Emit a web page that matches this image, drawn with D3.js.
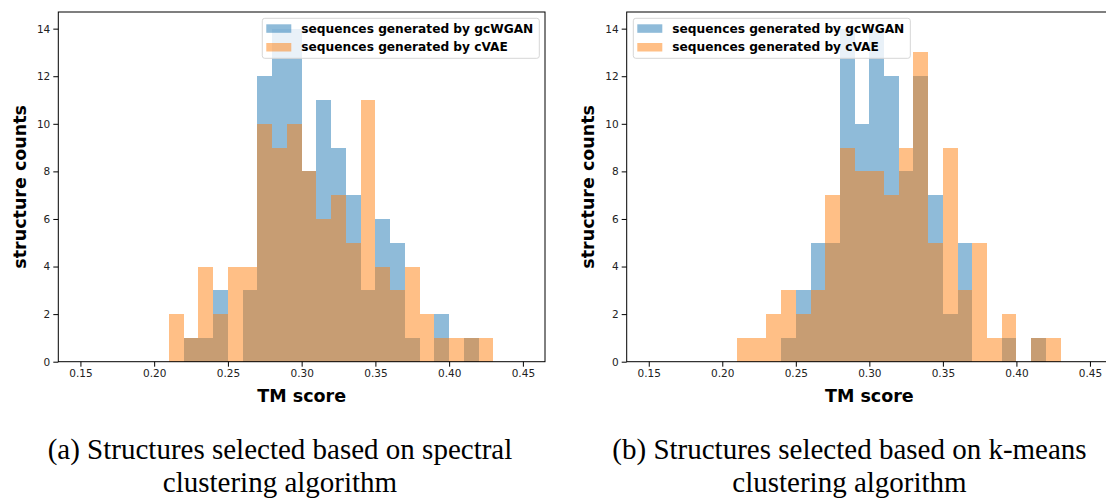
<!DOCTYPE html>
<html>
<head>
<meta charset="utf-8">
<script src="https://d3js.org/d3.v7.min.js"></script>
<style>
  body { margin: 0; background: #fff; }
  svg { display: block; }
</style>
</head>
<body>
<svg id="fig" width="1106" height="498"></svg>
<script>
// TM score bins (left edge of each 0.01 wide bin)
var tmBins = [0.15, 0.16, 0.17, 0.18, 0.19, 0.20, 0.21, 0.22, 0.23, 0.24,
              0.25, 0.26, 0.27, 0.28, 0.29, 0.30, 0.31, 0.32, 0.33, 0.34,
              0.35, 0.36, 0.37, 0.38, 0.39, 0.40, 0.41, 0.42, 0.43, 0.44];
var binWidth = 0.01;

// (a) spectral clustering
var spectralGcWGAN = [0, 0, 0, 0, 0, 0, 0, 1, 1, 3, 0, 3, 12, 14, 14, 8, 11, 9, 7, 3, 6, 5, 1, 0, 2, 0, 1, 0, 0, 0];
var spectralCVAE   = [0, 0, 0, 0, 0, 0, 2, 1, 4, 2, 4, 4, 10, 9, 10, 8, 6, 7, 5, 11, 4, 3, 4, 2, 1, 1, 1, 1, 0, 0];

// (b) k-means clustering
var kmeansGcWGAN = [0, 0, 0, 0, 0, 0, 0, 0, 0, 1, 3, 5, 5, 14, 10, 14, 12, 8, 12, 7, 2, 5, 0, 0, 1, 0, 1, 0, 0, 0];
var kmeansCVAE   = [0, 0, 0, 0, 0, 0, 1, 1, 2, 3, 2, 3, 7, 9, 8, 8, 7, 9, 13, 5, 9, 3, 5, 1, 2, 0, 1, 1, 0, 0];

var seriesNames = ["sequences generated by gcWGAN", "sequences generated by cVAE"];
var seriesColors = ["#1f77b4", "#ff7f0e"];

var xTicks = [0.15, 0.20, 0.25, 0.30, 0.35, 0.40, 0.45];
var yTicks = [0, 2, 4, 6, 8, 10, 12, 14];

var captions = [
    ["(a) Structures selected based on spectral", "clustering algorithm"],
    ["(b) Structures selected based on k-means", "clustering algorithm"]
];

var svg = d3.select("#fig");
var top_ = 12, bottom = 361.7;

function drawHist(left, right, seriesData, legendSide) {
    var x = d3.scaleLinear().domain([0.135, 0.465]).range([left, right]);
    var y = d3.scaleLinear().domain([0, 14.7]).range([bottom, top_]);

    var g = svg.append("g");

    // gcWGAN first, cVAE on top, both half transparent
    seriesData.forEach(function(counts, s) {
        g.append("g")
            .selectAll("rect")
            .data(tmBins.map(function(b, i) { return {x0: b, n: counts[i]}; }).filter(function(d) { return d.n > 0; }))
            .enter().append("rect")
            .attr("x", function(d) { return x(d.x0); })
            .attr("width", function(d) { return x(d.x0 + binWidth) - x(d.x0); })
            .attr("y", function(d) { return y(d.n); })
            .attr("height", function(d) { return y(0) - y(d.n); })
            .attr("fill", seriesColors[s])
            .attr("fill-opacity", 0.5)
            .attr("shape-rendering", "crispEdges");
    });

    // frame
    g.append("rect")
        .attr("x", left).attr("y", top_)
        .attr("width", right - left).attr("height", bottom - top_)
        .attr("fill", "none").attr("stroke", "#000").attr("stroke-width", 1);

    var xAxis = g.append("g")
        .attr("transform", "translate(0," + bottom + ")")
        .call(d3.axisBottom(x).tickValues(xTicks).tickFormat(d3.format(".2f")).tickSize(5).tickPadding(3));
    var yAxis = g.append("g")
        .attr("transform", "translate(" + left + ",0)")
        .call(d3.axisLeft(y).tickValues(yTicks).tickSize(5).tickPadding(3));
    [xAxis, yAxis].forEach(function(a) {
        a.select(".domain").remove();
        a.selectAll("text").attr("font-family", "DejaVu Sans").attr("font-size", 10.5).attr("fill", "#222");
        a.selectAll("line").attr("stroke", "#000");
    });

    g.append("text")
        .attr("x", (left + right) / 2).attr("y", 401.5)
        .attr("text-anchor", "middle")
        .attr("font-family", "DejaVu Sans").attr("font-weight", "bold").attr("font-size", 17.5)
        .text("TM score");

    g.append("text")
        .attr("transform", "translate(" + (left - 32.8) + "," + ((top_ + bottom) / 2) + ") rotate(-90)")
        .attr("text-anchor", "middle")
        .attr("font-family", "DejaVu Sans").attr("font-weight", "bold").attr("font-size", 17.5)
        .text("structure counts");

    // legend
    var lg = g.append("g");
    var box = lg.append("rect");
    var items = lg.selectAll("g.item").data(seriesNames).enter().append("g");
    items.append("rect")
        .attr("x", 4).attr("y", function(d, i) { return 6 + i * 18.7; })
        .attr("width", 25).attr("height", 8.5)
        .attr("fill", function(d, i) { return seriesColors[i]; })
        .attr("fill-opacity", 0.5);
    var texts = items.append("text")
        .attr("x", 39).attr("y", function(d, i) { return 14.5 + i * 18.7; })
        .attr("font-family", "DejaVu Sans").attr("font-weight", "bold").attr("font-size", 12.2)
        .text(function(d) { return d; });
    var maxLen = d3.max(texts.nodes(), function(n) { return n.getComputedTextLength(); });
    var bw = 39 + maxLen + 6, bh = 40;
    box.attr("width", bw).attr("height", bh).attr("rx", 2.5)
        .attr("fill", "#fff").attr("fill-opacity", 0.8)
        .attr("stroke", "#d6d6d6").attr("stroke-width", 1);
    var lx = legendSide === "right" ? right - 5.7 - bw : left + 6.6;
    lg.attr("transform", "translate(" + lx + "," + (top_ + 6.3) + ")");
}

drawHist(58.3, 545, [spectralGcWGAN, spectralCVAE], "right");
drawHist(626.7, 1112, [kmeansGcWGAN, kmeansCVAE], "left");

// sub-figure captions
var capCenters = [280, 849.5];
captions.forEach(function(lines, k) {
    lines.forEach(function(t, j) {
        svg.append("text")
            .attr("x", capCenters[k]).attr("y", j === 0 ? 459 : 492)
            .attr("text-anchor", "middle")
            .attr("font-family", "Liberation Serif").attr("font-size", 29)
            .attr("fill", "#000")
            .text(t);
    });
});
</script>
</body>
</html>
